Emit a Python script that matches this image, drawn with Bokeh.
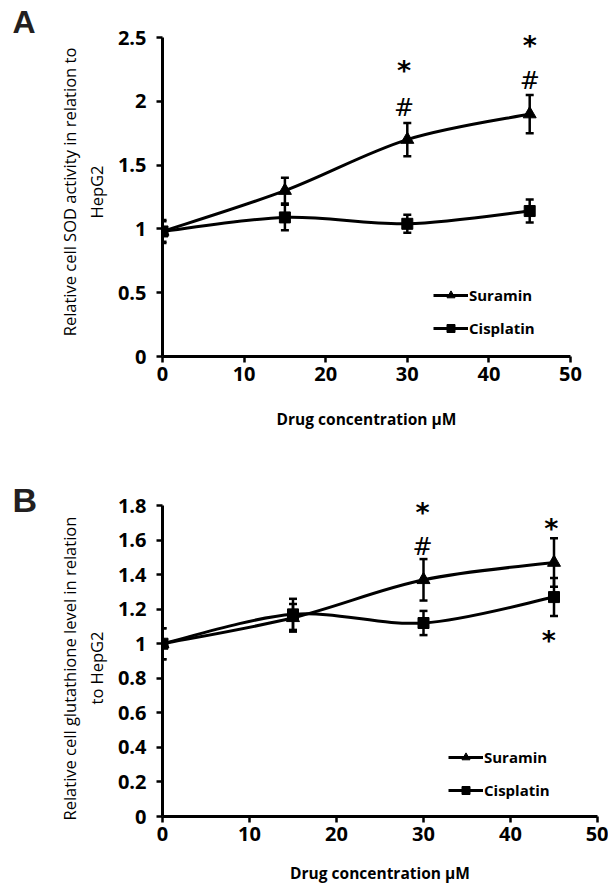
from bokeh.plotting import figure
from bokeh.models import (Range1d, FixedTicker, Legend, LegendItem, Title,
                          ColumnDataSource, Whisker, TeeHead)
from bokeh.layouts import column
from bokeh.embed import file_html
from bokeh.resources import INLINE
from bokeh.core.properties import value

# ---------------- data ----------------
conc = [0, 15, 30, 45]

sod_suramin = [0.98, 1.30, 1.70, 1.90]
sod_suramin_err = [0.09, 0.10, 0.13, 0.15]
sod_cisplatin = [0.98, 1.09, 1.04, 1.14]
sod_cisplatin_err = [0.08, 0.10, 0.07, 0.09]

gsh_suramin = [1.00, 1.15, 1.37, 1.47]
gsh_suramin_err = [0.09, 0.08, 0.12, 0.14]
gsh_cisplatin = [1.00, 1.17, 1.12, 1.27]
gsh_cisplatin_err = [0.09, 0.09, 0.07, 0.11]

x_ticks = [0, 10, 20, 30, 40, 50]
sod_y_ticks = [0, 0.5, 1, 1.5, 2, 2.5]
sod_y_labels = ["0", "0.5", "1", "1.5", "2", "2.5"]
gsh_y_ticks = [0, 0.2, 0.4, 0.6, 0.8, 1.0, 1.2, 1.4, 1.6, 1.8]
gsh_y_labels = ["0", "0.2", "0.4", "0.6", "0.8", "1", "1.2", "1.4", "1.6", "1.8"]

# significance marks (concentration, level, symbol)
sod_mark_x = [29.6, 29.6, 45.0, 45.0]
sod_mark_y = [2.26, 1.95, 2.45, 2.16]
sod_mark_text = ["*", "#", "*", "#"]

gsh_mark_x = [29.9, 29.9, 44.7, 44.4]
gsh_mark_y = [1.77, 1.56, 1.68, 1.03]
gsh_mark_text = ["*", "#", "*", "*"]

series_names = ["Suramin", "Cisplatin"]
x_title = "Drug concentration \u03bcM"
sod_y_title = ["Relative cell SOD activity in relation to", "HepG2"]
gsh_y_title = ["Relative cell glutathione level in relation", "to HepG2"]

FONT = "Open Sans"


def bezier_source(xs, ys):
    n = len(xs)
    d = dict(x0=[], y0=[], x1=[], y1=[], cx0=[], cy0=[], cx1=[], cy1=[])
    for i in range(n - 1):
        a = max(i - 1, 0)
        b = min(i + 2, n - 1)
        d["x0"].append(xs[i]); d["y0"].append(ys[i])
        d["x1"].append(xs[i + 1]); d["y1"].append(ys[i + 1])
        d["cx0"].append(xs[i] + (xs[i + 1] - xs[a]) / 6.0)
        d["cy0"].append(ys[i] + (ys[i + 1] - ys[a]) / 6.0)
        d["cx1"].append(xs[i + 1] - (xs[b] - xs[i]) / 6.0)
        d["cy1"].append(ys[i + 1] - (ys[b] - ys[i]) / 6.0)
    return ColumnDataSource(d)


def make_panel(height, yaxis_max, headroom, yticks, ylabels, border, suramin,
               suramin_err, cisplatin, cisplatin_err, mark_x, mark_y, mark_text,
               ytitle, ytitle_style, letter, letter_style, legend_loc,
               xlab_standoff):
    top, bottom, right = border
    p = figure(width=608, height=height, x_range=Range1d(0, 50),
               y_range=Range1d(0, yaxis_max + headroom), output_backend="svg",
               toolbar_location=None, min_border_left=162,
               min_border_right=right, min_border_top=top,
               min_border_bottom=bottom, title=letter, frame_align=False)
    p.outline_line_color = None
    p.grid.visible = False
    p.background_fill_color = "white"

    lsize, lstand = letter_style
    p.title.align = "left"
    p.title.offset = -150
    p.title.standoff = lstand
    p.title.vertical_align = "bottom"
    p.title.text_font = "Liberation Sans"
    p.title.text_font_size = lsize
    p.title.text_font_style = "bold"
    p.title.text_color = "#231f20"

    for ax in (p.xaxis[0], p.yaxis[0]):
        ax.axis_line_width = 3
        ax.axis_line_color = "black"
        ax.major_tick_line_width = 2.5
        ax.major_tick_line_color = "black"
        ax.major_tick_out = 6
        ax.major_tick_in = 0
        ax.minor_tick_line_color = None
        ax.major_label_text_font = FONT
        ax.major_label_text_font_style = "bold"
        ax.major_label_text_font_size = "20px"
        ax.major_label_text_color = "black"
    p.xaxis.ticker = FixedTicker(ticks=x_ticks)
    p.xaxis.major_label_standoff = 4
    p.xaxis.axis_label = x_title
    p.xaxis.axis_label_text_font = FONT
    p.xaxis.axis_label_text_font_style = "bold"
    p.xaxis.axis_label_text_font_size = "15.5px"
    p.xaxis.axis_label_text_color = "black"
    p.xaxis.axis_label_standoff = xlab_standoff
    p.yaxis.ticker = FixedTicker(ticks=yticks)
    p.yaxis.bounds = (0, yaxis_max)
    p.yaxis.major_label_overrides = {t: l for t, l in zip(yticks, ylabels)}
    p.yaxis.major_label_standoff = 10

    # y-axis title in two lines (second line nearest the axis)
    for txt, (so, al, off) in zip(reversed(ytitle), ytitle_style):
        p.add_layout(Title(text=txt, align=al, offset=off, standoff=so,
                           text_font=FONT, text_font_size="16.5px",
                           text_font_style="normal", text_color="black"), "left")

    # smoothed lines
    curves = []
    for ys in (suramin, cisplatin):
        r = p.bezier(x0="x0", y0="y0", x1="x1", y1="y1", cx0="cx0", cy0="cy0",
                     cx1="cx1", cy1="cy1", source=bezier_source(conc, ys),
                     line_color="black", line_width=3)
        curves.append(r)

    # error bars
    for ys, es in ((suramin, suramin_err), (cisplatin, cisplatin_err)):
        src = ColumnDataSource(dict(x=conc,
                                    upper=[y + e for y, e in zip(ys, es)],
                                    lower=[y - e for y, e in zip(ys, es)]))
        w = Whisker(source=src, base="x", upper="upper", lower="lower",
                    line_color="black", line_width=2.5,
                    upper_head=TeeHead(size=8, line_width=2.5, line_color="black"),
                    lower_head=TeeHead(size=8, line_width=2.5, line_color="black"),
                    level="glyph")
        p.add_layout(w)

    tri = p.scatter(conc, suramin, marker="triangle", size=13,
                    fill_color="black", line_color="black")
    sq = p.scatter(conc, cisplatin, marker="square", size=11,
                   fill_color="black", line_color="black")

    legend = Legend(items=[LegendItem(label=series_names[0], renderers=[curves[0], tri]),
                           LegendItem(label=series_names[1], renderers=[curves[1], sq])],
                    location=legend_loc, glyph_width=35, glyph_height=20,
                    label_height=20, spacing=13, padding=0, margin=0,
                    label_standoff=1, border_line_color=None,
                    background_fill_alpha=0, label_text_font=FONT,
                    label_text_font_style="bold", label_text_font_size="15px",
                    label_text_color="black")
    p.add_layout(legend)

    # significance marks
    for sym, size, yoff, style in (("*", "27px", 2, "bold"), ("#", "24px", 0, "normal")):
        idx = [i for i, t in enumerate(mark_text) if t == sym]
        src = ColumnDataSource(dict(x=[mark_x[i] for i in idx],
                                    y=[mark_y[i] for i in idx],
                                    t=[mark_text[i] for i in idx]))
        p.text(x="x", y="y", text="t", source=src,
               text_font=value("DejaVu Sans"), text_font_size=size,
               text_font_style=style, y_offset=yoff, text_align="center",
               text_baseline="middle", text_color="black")
    return p


pA = make_panel(470, 2.5, 0.0784, sod_y_ticks, sod_y_labels, (27, 114, 38),
                sod_suramin, sod_suramin_err, sod_cisplatin, sod_cisplatin_err,
                sod_mark_x, sod_mark_y, sod_mark_text,
                sod_y_title, [(13, "center", 0), (-8, "center", 0)],
                "A", ("32px", -24), (271, 18), 24)
pB = make_panel(417, 1.8, 0.058, gsh_y_ticks, gsh_y_labels, (25, 71, 11),
                gsh_suramin, gsh_suramin_err, gsh_cisplatin, gsh_cisplatin_err,
                gsh_mark_x, gsh_mark_y, gsh_mark_text,
                gsh_y_title, [(13, "left", 112), (-8, "left", -4)],
                "B", ("34px", -46), (286, 16), 18)

layout = column(pA, pB, spacing=0)
open("out.html", "w").write(file_html(layout, INLINE))
